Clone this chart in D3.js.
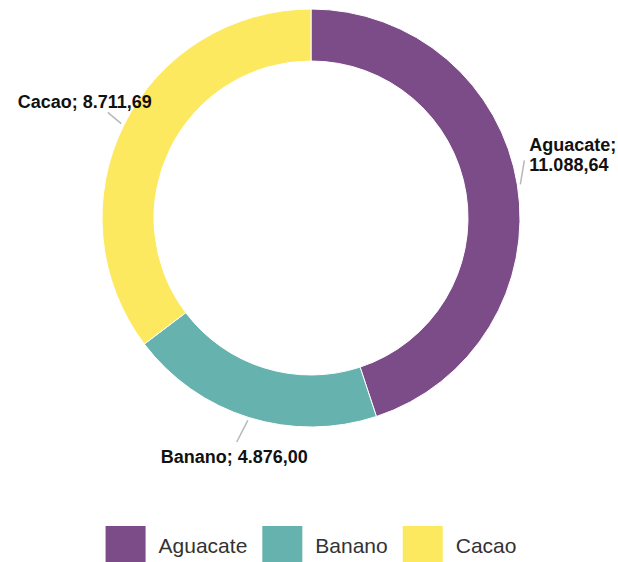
<!DOCTYPE html>
<html>
<head>
<meta charset="utf-8">
<script src="https://cdn.jsdelivr.net/npm/d3@7"></script>
<style>
  html, body { margin: 0; padding: 0; background: #fff; }
  svg { display: block; font-family: "Liberation Sans", Arial, Helvetica, sans-serif; }
</style>
</head>
<body>
<svg id="chart" width="618" height="562"></svg>
<script>
// Data
const categories = ['Aguacate', 'Banano', 'Cacao'];
const values = [11088.64, 4876.00, 8711.69];
const colors = ['#7b4c88', '#65b2ae', '#fde95f'];

const width = 618, height = 562;
const cx = 311, cy = 218;
const outerR = 209, innerR = 157;

// Spanish number format: 11.088,64
const es = d3.formatLocale({ decimal: ',', thousands: '.', grouping: [3], currency: ['', ''] });
const fmt = es.format(',.2f');

const svg = d3.select('#chart');
const color = d3.scaleOrdinal().domain(categories).range(colors);

const rows = categories.map((c, i) => ({ cat: c, value: values[i] }));

const pie = d3.pie()
  .value(d => d.value)
  .sort(null);

const arc = d3.arc()
  .innerRadius(innerR)
  .outerRadius(outerR);

const arcs = pie(rows);

const g = svg.append('g').attr('transform', `translate(${cx},${cy})`);

g.selectAll('path.slice')
  .data(arcs)
  .enter()
  .append('path')
  .attr('class', 'slice')
  .attr('d', arc)
  .attr('fill', d => color(d.data.cat))
  .attr('stroke', '#fff')
  .attr('stroke-width', 1);

// Label layout: leader end radius, angle nudge (deg), text offset from leader end
const labelLayout = {
  Aguacate: { r2: 221, nudge: -6, dx: 5, dy: -9, anchor: 'start', lines: true },
  Banano:   { r2: 236, nudge: 1,  dx: -76, dy: 21, anchor: 'start', lines: false },
  Cacao:    { r2: 229, nudge: 1,  dx: 44, dy: -4, anchor: 'end', lines: false }
};

function polar(angle, r) {
  return [Math.sin(angle) * r, -Math.cos(angle) * r];
}

const labels = g.append('g').attr('class', 'labels');

arcs.forEach(d => {
  const L = labelLayout[d.data.cat];
  const mid = (d.startAngle + d.endAngle) / 2;
  const p1 = polar(mid, outerR + 3);
  const p2 = polar(mid + L.nudge * Math.PI / 180, L.r2);

  labels.append('line')
    .attr('x1', p1[0]).attr('y1', p1[1])
    .attr('x2', p2[0]).attr('y2', p2[1])
    .attr('stroke', '#b8b8b8')
    .attr('stroke-width', 1.5);

  const lines = L.lines
    ? [d.data.cat + ';', fmt(d.data.value)]
    : [`${d.data.cat}; ${fmt(d.data.value)}`];

  lines.forEach((s, i) => {
    labels.append('text')
      .attr('x', p2[0] + L.dx)
      .attr('y', p2[1] + L.dy + i * 20)
      .attr('text-anchor', L.anchor)
      .attr('font-size', 18)
      .attr('font-weight', 'bold')
      .attr('fill', '#111')
      .text(s);
  });
});

// Legend
const legend = svg.append('g').attr('class', 'legend');
const box = 40, gapText = 13, gapItem = 15;
let x = 0;
categories.forEach(c => {
  const item = legend.append('g').attr('transform', `translate(${x},0)`);
  item.append('rect')
    .attr('x', 0).attr('y', 0)
    .attr('width', box).attr('height', box)
    .attr('fill', color(c));
  const txt = item.append('text')
    .attr('x', box + gapText)
    .attr('y', 27)
    .attr('font-size', 21)
    .attr('fill', '#333')
    .text(c);
  x += box + gapText + txt.node().getComputedTextLength() + gapItem;
});
const legendW = x - gapItem;
legend.attr('transform', `translate(${cx - legendW / 2},526)`);
</script>
</body>
</html>
